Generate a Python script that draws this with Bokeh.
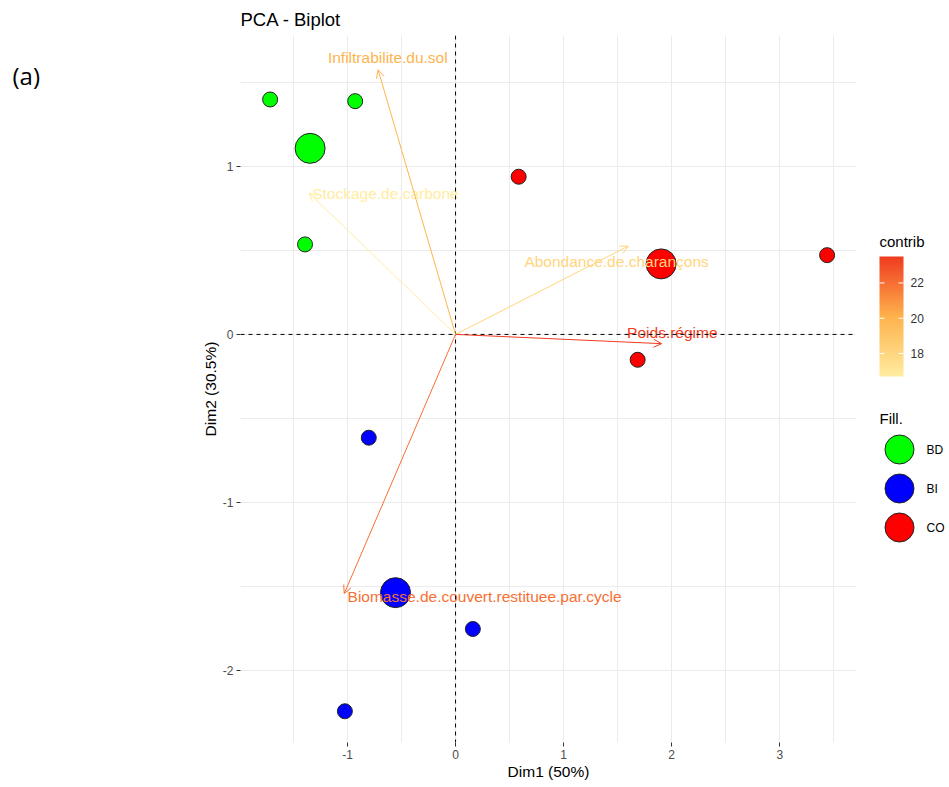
import numpy as np
from bokeh.plotting import figure
from bokeh.models import (Range1d, FixedTicker, Span, Arrow, OpenHead,
                          LinearColorMapper, ColumnDataSource)
from bokeh.layouts import row
from bokeh.core.properties import value
from bokeh.embed import file_html
from bokeh.resources import INLINE

# ---------------- data ----------------
ind_group = ["BD", "BD", "BD", "CO", "CO", "CO", "BI", "BI", "BI"]
ind_dim1 = [-1.716, -0.929, -1.393, 0.584, 3.438, 1.685, -0.803, 0.160, -1.024]
ind_dim2 = [1.399, 1.389, 0.536, 0.939, 0.472, -0.151, -0.615, -1.754, -2.244]

groups = ["BD", "BI", "CO"]
group_colors = ["#00FF00", "#0000FF", "#FF0000"]

var_names = ["Infiltrabilite.du.sol", "Stockage.de.carbone",
             "Abondance.de.charançons", "Poids.régime",
             "Biomasse.de.couvert.restituee.par.cycle"]
var_dim1 = [-0.717, -1.353, 1.599, 1.907, -1.030]
var_dim2 = [1.576, 0.841, 0.526, -0.055, -1.543]
var_contrib = [20.0, 16.7, 18.1, 23.5, 22.0]
# repelled label positions (data units)
label_dim1 = [-0.627, -0.649, 1.490, 2.006, 0.268]
label_dim2 = [1.647, 0.838, 0.436, 0.012, -1.558]

x_ticks = [-1, 0, 1, 2, 3]
y_ticks = [-2, -1, 0, 1]
cb_ticks = [18, 20, 22]

FONT = "Liberation Sans"
grad_cols = ["#FFEDA0", "#FEB24C", "#F03B20"]


def hex2rgb(h):
    h = h.lstrip("#")
    return [int(h[i:i + 2], 16) for i in (0, 2, 4)]


def grad(t):
    t = min(max(t, 0.0), 1.0)
    if t <= 0.5:
        a, b, u = hex2rgb(grad_cols[0]), hex2rgb(grad_cols[1]), t / 0.5
    else:
        a, b, u = hex2rgb(grad_cols[1]), hex2rgb(grad_cols[2]), (t - 0.5) / 0.5
    c = [round(a[i] + (b[i] - a[i]) * u) for i in range(3)]
    return "#%02X%02X%02X" % tuple(c)


lo, hi = min(var_contrib), max(var_contrib)
palette = [grad(i / 255) for i in range(256)]
var_colors = [grad((v - lo) / (hi - lo)) for v in var_contrib]

H = 787
FR_TOP, FR_BOT = 35, 742   # plot frames are aligned across the row

# ---------------- left tag figure ----------------
LW = 60
a = figure(width=LW, height=H, output_backend="svg", toolbar_location=None,
           x_range=Range1d(0, LW), y_range=Range1d(FR_BOT, FR_TOP),
           x_axis_location=None, y_axis_location=None, min_border=0)
a.outline_line_color = None
a.xgrid.visible = False
a.ygrid.visible = False
a.text(x=[12], y=[75], text=["(a)"], text_font=value("Open Sans"),
       text_font_size="24px", text_color="black", text_baseline="middle")

# ---------------- main figure ----------------
W = 856 - LW
p = figure(width=W, height=H, output_backend="svg", toolbar_location=None,
           x_range=Range1d(-1.99, 3.71), y_range=Range1d(-2.43, 1.78),
           min_border_left=240 - LW, min_border_right=0, min_border_top=FR_TOP,
           min_border_bottom=H - FR_BOT, title="PCA - Biplot")
p.outline_line_color = None
p.background_fill_color = "white"
p.border_fill_color = "white"

p.title.text_font = FONT
p.title.text_font_size = "18.5px"
p.title.text_font_style = "normal"
p.title.text_color = "black"
p.title.align = "left"
p.title.offset = 0
p.title.standoff = 12

p.xaxis.ticker = FixedTicker(ticks=x_ticks, minor_ticks=[t + 0.5 for t in [-2] + x_ticks])
p.yaxis.ticker = FixedTicker(ticks=y_ticks, minor_ticks=[t + 0.5 for t in [-3] + y_ticks])
p.xaxis.major_label_overrides = {t: str(t) for t in x_ticks}
p.yaxis.major_label_overrides = {t: str(t) for t in y_ticks}
p.xaxis.axis_label = "Dim1 (50%)"
p.yaxis.axis_label = "Dim2 (30.5%)"
for ax in (p.xaxis, p.yaxis):
    ax.axis_line_color = None
    ax.major_tick_line_color = "#333333"
    ax.major_tick_out = 4
    ax.major_tick_in = 0
    ax.minor_tick_line_color = None
    ax.major_label_text_font = FONT
    ax.major_label_text_font_size = "12px"
    ax.major_label_text_color = "#4D4D4D"
    ax.major_label_standoff = 3
    ax.axis_label_text_font = FONT
    ax.axis_label_text_font_size = "15.5px"
    ax.axis_label_text_font_style = "normal"
    ax.axis_label_text_color = "black"
    ax.axis_label_standoff = 1

for g in (p.xgrid, p.ygrid):
    g.grid_line_color = "#EBEBEB"
    g.grid_line_width = 1
    g.minor_grid_line_color = "#EBEBEB"
    g.minor_grid_line_width = 1

p.add_layout(Span(location=0, dimension="width", line_color="black",
                  line_dash="4 4", line_width=1))
p.add_layout(Span(location=0, dimension="height", line_color="black",
                  line_dash="4 4", line_width=1))

# individuals
col_of = dict(zip(groups, group_colors))
src = ColumnDataSource(dict(x=ind_dim1, y=ind_dim2,
                            c=[col_of[g] for g in ind_group]))
p.scatter("x", "y", source=src, size=15, fill_color="c", line_color="#222222",
          line_width=1)

# group mean points
gx = [float(np.mean([x for x, g in zip(ind_dim1, ind_group) if g == k])) for k in groups]
gy = [float(np.mean([y for y, g in zip(ind_dim2, ind_group) if g == k])) for k in groups]
p.scatter(gx, gy, size=30, fill_color=group_colors, line_color="#222222", line_width=1)

# variable arrows
for xe, ye, c in zip(var_dim1, var_dim2, var_colors):
    p.add_layout(Arrow(x_start=0, y_start=0, x_end=xe, y_end=ye,
                       line_color=c, line_width=1,
                       end=OpenHead(size=8, line_color=c, line_width=1)))
p.text(x=label_dim1, y=label_dim2, text=var_names, text_color=var_colors,
       text_align="center", text_baseline="middle",
       text_font=value(FONT), text_font_size="15.5px")

# ---------------- legend side figure ----------------
SW = 90
s = figure(width=SW, height=H, output_backend="svg", toolbar_location=None,
           x_range=Range1d(0, SW), y_range=Range1d(FR_BOT, FR_TOP),
           x_axis_location=None, y_axis_location=None, min_border=0)
s.outline_line_color = None
s.xgrid.visible = False
s.ygrid.visible = False

# colour bar (gradient image through the colour mapper)
bar_x, bar_w, bar_top, bar_h = 23, 24, 256, 120
mapper = LinearColorMapper(palette=palette, low=lo, high=hi)
grad_img = np.linspace(hi, lo, 200).reshape(200, 1)
s.image(image=[grad_img], x=bar_x, y=bar_top, dw=bar_w, dh=bar_h,
        color_mapper=mapper)
tick_y = [bar_top + (hi - v) / (hi - lo) * bar_h for v in cb_ticks]
s.segment(x0=[bar_x] * 3, x1=[bar_x + 5] * 3, y0=tick_y, y1=tick_y,
          line_color="white", line_width=1)
s.segment(x0=[bar_x + bar_w - 5] * 3, x1=[bar_x + bar_w] * 3, y0=tick_y,
          y1=tick_y, line_color="white", line_width=1)
s.text(x=[bar_x + bar_w + 7] * 3, y=tick_y, text=[str(t) for t in cb_ticks],
       text_font=value(FONT), text_font_size="12px", text_color="#333333",
       text_baseline="middle")
s.text(x=[bar_x], y=[241], text=["contrib"], text_font=value(FONT),
       text_font_size="15px", text_color="black", text_baseline="middle")

s.text(x=[bar_x], y=[418], text=["Fill."], text_font=value(FONT),
       text_font_size="15px", text_color="black", text_baseline="middle")
leg_y = [449 + 39 * i for i in range(len(groups))]
s.scatter([43] * len(groups), leg_y, size=29, fill_color=group_colors,
          line_color="#222222", line_width=1)
s.text(x=[70] * len(groups), y=leg_y, text=groups, text_font=value(FONT),
       text_font_size="12px", text_color="black", text_baseline="middle")

layout = row(a, p, s)
open("out.html", "w").write(file_html(layout, INLINE))
